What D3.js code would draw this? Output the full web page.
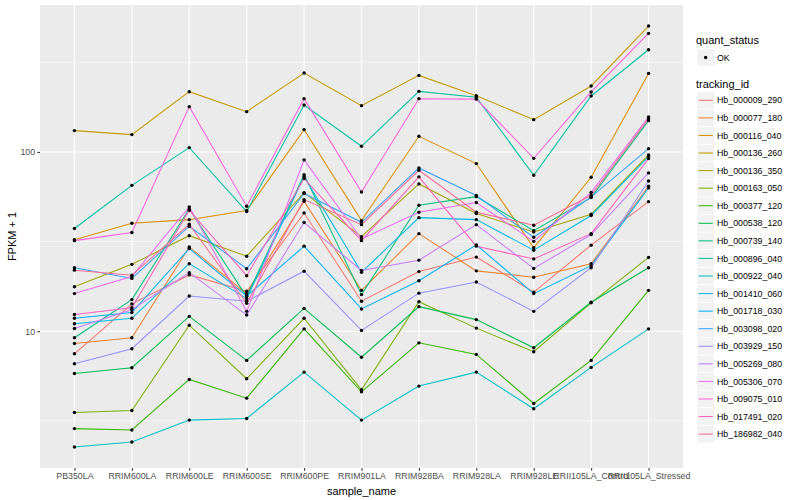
<!DOCTYPE html>
<html><head><meta charset="utf-8">
<script src="https://cdn.jsdelivr.net/npm/d3@7/dist/d3.min.js"></script>
<style>
body{margin:0;background:#fff}
svg{display:block}
text{font-family:"Liberation Sans",Arial,Helvetica,sans-serif}
</style>
</head><body>
<svg id="chart" width="800" height="500"></svg>
<script>
// ---------- data ----------
const samples = ["PB350LA","RRIM600LA","RRIM600LE","RRIM600SE","RRIM600PE","RRIM901LA","RRIM928BA","RRIM928LA","RRIM928LE","RRII105LA_Control","RRII105LA_Stressed"];
const trackingIds = ["Hb_000009_290","Hb_000077_180","Hb_000116_040","Hb_000136_260","Hb_000136_350","Hb_000163_050","Hb_000377_120","Hb_000538_120","Hb_000739_140","Hb_000896_040","Hb_000922_040","Hb_001410_060","Hb_001718_030","Hb_003098_020","Hb_003929_150","Hb_005269_080","Hb_005306_070","Hb_009075_010","Hb_017491_020","Hb_186982_040"];
const quantStatus = ["OK"];
const yTickValues = [10, 100];
const yTickLabels = ["10", "100"];

const Hb_000009_290 = [7.48, 14.2, 20.6, 16.7, 45.6, 14.7, 21.5, 25.9, 16.5, 30.2, 52.8];
const Hb_000077_180 = [8.54, 9.19, 29.5, 16.2, 53.0, 16.9, 35.0, 21.7, 20.0, 23.8, 64.3];
const Hb_000116_040 = [32.4, 40.0, 41.9, 47.1, 133.2, 41.4, 122.2, 86.1, 29.2, 72.2, 274.2];
const Hb_000136_260 = [131.5, 124.9, 216.8, 167.8, 275.6, 181.2, 267.3, 206.0, 151.4, 233.3, 503.8];
const Hb_000136_350 = [17.7, 23.6, 34.1, 26.2, 59.3, 33.7, 66.3, 45.3, 35.8, 44.9, 96.2];
const Hb_000163_050 = [3.52, 3.61, 10.8, 5.43, 11.8, 4.71, 14.6, 10.4, 7.68, 14.4, 25.8];
const Hb_000377_120 = [2.86, 2.81, 5.38, 4.23, 10.3, 4.59, 8.61, 7.42, 3.95, 6.87, 16.9];
const Hb_000538_120 = [5.81, 6.25, 12.1, 6.87, 13.4, 7.16, 13.7, 11.6, 8.08, 14.5, 22.6];
const Hb_000739_140 = [9.19, 15.0, 48.1, 15.6, 74.7, 16.0, 50.4, 56.3, 36.4, 55.6, 149.4];
const Hb_000896_040 = [37.4, 65.1, 105.7, 46.5, 182.8, 107.5, 217.7, 202.1, 74.1, 205.2, 371.7];
const Hb_000922_040 = [2.26, 2.41, 3.19, 3.26, 5.91, 3.19, 4.94, 5.91, 3.69, 6.28, 10.3];
const Hb_001410_060 = [11.0, 11.8, 23.8, 15.2, 72.8, 21.3, 43.0, 41.9, 28.3, 44.2, 94.2];
const Hb_001718_030 = [11.8, 12.7, 28.9, 15.7, 29.8, 13.3, 19.1, 30.3, 16.2, 23.2, 63.0];
const Hb_003098_020 = [22.6, 19.7, 38.5, 22.3, 58.6, 40.5, 81.4, 57.1, 33.4, 56.1, 104.3];
const Hb_003929_150 = [6.58, 7.98, 15.7, 14.7, 21.6, 10.1, 16.3, 18.8, 12.9, 22.6, 68.9];
const Hb_005269_080 = [10.35, 13.2, 21.2, 12.3, 40.4, 21.8, 24.9, 39.3, 22.4, 34.6, 76.4];
const Hb_005306_070 = [16.2, 20.2, 49.4, 12.9, 90.3, 32.7, 46.1, 52.2, 31.7, 59.5, 156.7];
const Hb_009075_010 = [32.0, 35.5, 178.9, 49.8, 198.2, 59.8, 198.2, 197.0, 92.1, 216.0, 458.3];
const Hb_017491_020 = [12.4, 13.5, 47.3, 20.4, 71.0, 32.0, 72.6, 29.8, 25.3, 35.0, 91.8];
const Hb_186982_040 = [21.9, 20.5, 39.5, 14.3, 54.2, 39.3, 79.0, 46.1, 39.0, 57.3, 153.3];

const seriesValues = [Hb_000009_290, Hb_000077_180, Hb_000116_040, Hb_000136_260, Hb_000136_350,
  Hb_000163_050, Hb_000377_120, Hb_000538_120, Hb_000739_140, Hb_000896_040, Hb_000922_040,
  Hb_001410_060, Hb_001718_030, Hb_003098_020, Hb_003929_150, Hb_005269_080, Hb_005306_070,
  Hb_009075_010, Hb_017491_020, Hb_186982_040];

// ---------- style ----------
const palette = ["#F8766D","#EA8331","#D89000","#C09B00","#A3A500","#7CAE00","#39B600","#00BB4E","#00BF7D","#00C1A3",
  "#00BFC4","#00BAE0","#00B0F6","#35A2FF","#9590FF","#C77CFF","#E76BF3","#FA62DB","#FF62BC","#FF6C91"];

const panel = {x0: 40, x1: 683, y0: 5, y1: 468};
const svg = d3.select("#chart");

const series = trackingIds.map((id, i) => ({
  id, color: palette[i],
  points: samples.map((s, j) => ({sample: s, value: seriesValues[i][j]}))
}));

// scales
const x = d3.scalePoint().domain(samples).range([panel.x0, panel.x1]).padding(0.6);
const allVals = seriesValues.flat();
const lmin = Math.log10(d3.min(allVals)), lmax = Math.log10(d3.max(allVals));
const pad = (lmax - lmin) * 0.05;
const y = d3.scaleLog().domain([Math.pow(10, lmin - pad), Math.pow(10, lmax + pad)]).range([panel.y1, panel.y0]);

// panel background
svg.append("rect").attr("x", panel.x0).attr("y", panel.y0)
  .attr("width", panel.x1 - panel.x0).attr("height", panel.y1 - panel.y0).attr("fill", "#EBEBEB");

// minor grid (log midpoints)
const minorTicks = [0.5, 1.5, 2.5].map(e => Math.pow(10, e)).filter(v => v > y.domain()[0] && v < y.domain()[1]);
svg.append("g").selectAll("line").data(minorTicks).join("line")
  .attr("x1", panel.x0).attr("x2", panel.x1)
  .attr("y1", d => y(d)).attr("y2", d => y(d))
  .attr("stroke", "#fff").attr("stroke-width", 0.55);

// major grid
svg.append("g").selectAll("line").data(yTickValues).join("line")
  .attr("x1", panel.x0).attr("x2", panel.x1)
  .attr("y1", d => y(d)).attr("y2", d => y(d))
  .attr("stroke", "#fff").attr("stroke-width", 1.1);
svg.append("g").selectAll("line").data(samples).join("line")
  .attr("x1", d => x(d)).attr("x2", d => x(d))
  .attr("y1", panel.y0).attr("y2", panel.y1)
  .attr("stroke", "#fff").attr("stroke-width", 1.1);

// lines
const lineGen = d3.line().x(d => x(d.sample)).y(d => y(d.value));
svg.append("g").selectAll("path").data(series).join("path")
  .attr("d", d => lineGen(d.points))
  .attr("fill", "none").attr("stroke", d => d.color).attr("stroke-width", 1.05);

// points
svg.append("g").selectAll("g").data(series).join("g")
  .selectAll("circle").data(d => d.points).join("circle")
  .attr("cx", d => x(d.sample)).attr("cy", d => y(d.value)).attr("r", 1.7).attr("fill", "#000");

// axes
const yAxis = d3.axisLeft(y).tickValues(yTickValues).tickFormat((d, i) => yTickLabels[i]).tickSize(2.7).tickPadding(2.2);
const gy = svg.append("g").attr("transform", `translate(${panel.x0},0)`).call(yAxis);
gy.select(".domain").remove();
gy.selectAll(".tick line").attr("stroke", "#333").attr("stroke-width", 1.05);
gy.selectAll(".tick text").attr("fill", "#4D4D4D").attr("font-size", "8.8px");

const xAxis = d3.axisBottom(x).tickSize(2.7).tickPadding(2.2);
const gx = svg.append("g").attr("transform", `translate(0,${panel.y1})`).call(xAxis);
gx.select(".domain").remove();
gx.selectAll(".tick line").attr("stroke", "#333").attr("stroke-width", 1.05);
gx.selectAll(".tick text").attr("fill", "#4D4D4D").attr("font-size", "8.8px");

// axis titles
svg.append("text").attr("x", (panel.x0 + panel.x1) / 2).attr("y", 495)
  .attr("text-anchor", "middle").attr("font-size", "11px").attr("fill", "#000").text("sample_name");
svg.append("text").attr("transform", `translate(16,${(panel.y0 + panel.y1) / 2}) rotate(-90)`)
  .attr("text-anchor", "middle").attr("font-size", "11px").attr("fill", "#000").text("FPKM + 1");

// legends
const lg = svg.append("g");
const keyX = 697, keyW = 17.3, keyH = 17.3;
lg.append("text").attr("x", 696).attr("y", 44).attr("font-size", "11px").text("quant_status");
lg.selectAll("g.qs").data(quantStatus).join("g").attr("class", "qs").each(function(d) {
  const g = d3.select(this);
  const cy = 57.5;
  g.append("rect").attr("x", keyX).attr("y", cy - keyH / 2).attr("width", keyW).attr("height", keyH)
    .attr("fill", "#F2F2F2").attr("stroke", "#fff").attr("stroke-width", 0.6);
  g.append("circle").attr("cx", keyX + keyW / 2).attr("cy", cy).attr("r", 1.7).attr("fill", "#000");
  g.append("text").attr("x", 717).attr("y", cy + 3.1).attr("font-size", "8.8px").text(d);
});

lg.append("text").attr("x", 696).attr("y", 88).attr("font-size", "11px").text("tracking_id");
const rowStep = 17.57, row0 = 100.3;
lg.selectAll("g.tid").data(series).join("g").attr("class", "tid").each(function(d, i) {
  const g = d3.select(this);
  const cy = row0 + i * rowStep;
  g.append("rect").attr("x", keyX).attr("y", cy - keyH / 2).attr("width", keyW).attr("height", keyH)
    .attr("fill", "#F2F2F2").attr("stroke", "#fff").attr("stroke-width", 0.6);
  g.append("line").attr("x1", keyX + 1.5).attr("x2", keyX + keyW - 1.5).attr("y1", cy).attr("y2", cy)
    .attr("stroke", d.color).attr("stroke-width", 1.05);
  g.append("text").attr("x", 717).attr("y", cy + 3.1).attr("font-size", "8.8px").text(d.id);
});
</script>
</body></html>
